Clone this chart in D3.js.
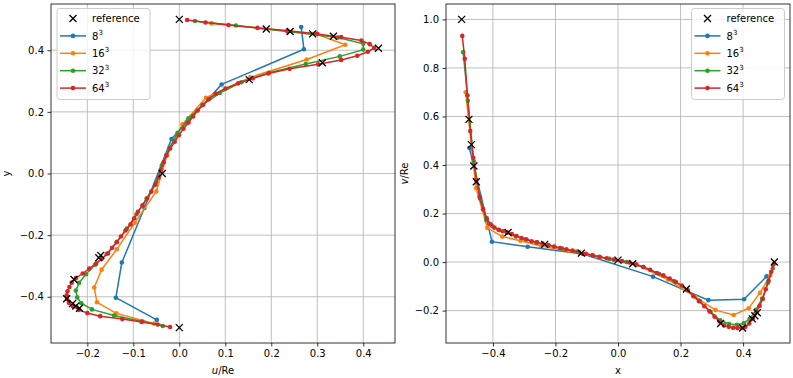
<!DOCTYPE html>
<meta charset="utf-8">
<script src="https://d3js.org/d3.v7.min.js"></script>
<style>
  body { margin: 0; background: #fff; }
  text { font-family: "DejaVu Sans", sans-serif; }
</style>
<div id="chart"></div>
<script>

// grid point positions for each resolution (same along y and x)
var grid8 = [-0.475, -0.403, -0.289, -0.112, 0.112, 0.289, 0.403, 0.475];
var grid16 = [-0.487, -0.454, -0.418, -0.370, -0.312, -0.246, -0.160, -0.058,
              0.058, 0.160, 0.246, 0.312, 0.370, 0.418, 0.454, 0.487];
var grid32 = [-0.495, -0.480, -0.461, -0.441, -0.421, -0.402, -0.380, -0.355,
              -0.327, -0.296, -0.261, -0.222, -0.179, -0.132, -0.081, -0.027,
              0.027, 0.081, 0.132, 0.179, 0.222, 0.261, 0.296, 0.327,
              0.355, 0.380, 0.402, 0.421, 0.441, 0.461, 0.480, 0.495];
var grid64 = [-0.498, -0.490, -0.4815, -0.4725, -0.4629, -0.4529, -0.4424, -0.4313,
              -0.4197, -0.4076, -0.3951, -0.3820, -0.3683, -0.3542, -0.3396, -0.3245,
              -0.3088, -0.2926, -0.2760, -0.2588, -0.2411, -0.2229, -0.2042, -0.1850,
              -0.1652, -0.1450, -0.1243, -0.1030, -0.0812, -0.0589, -0.0362, -0.0129,
              0.0129, 0.0362, 0.0589, 0.0812, 0.1030, 0.1243, 0.1450, 0.1652,
              0.1850, 0.2042, 0.2229, 0.2411, 0.2588, 0.2760, 0.2926, 0.3088,
              0.3245, 0.3396, 0.3542, 0.3683, 0.3820, 0.3951, 0.4076, 0.4197,
              0.4313, 0.4424, 0.4529, 0.4629, 0.4725, 0.4815, 0.490, 0.498];

// left panel: u/Re along y
var refY = [0.5, 0.4688, 0.4609, 0.4531, 0.4453, 0.4063, 0.3594, 0.3047, 0,
            -0.2656, -0.2734, -0.3437, -0.4062, -0.4219, -0.4297, -0.4375, -0.5];
var refU = [0, 0.189, 0.241, 0.290, 0.335, 0.433, 0.311, 0.152, -0.037,
            -0.171, -0.175, -0.229, -0.245, -0.232, -0.225, -0.217, 0];
var u8 = [-0.049, -0.138, -0.125, -0.076, -0.017, 0.092, 0.271, 0.265];
var u16 = [-0.055, -0.137, -0.179, -0.185, -0.169, -0.136, -0.097, -0.050,
           -0.027, 0.007, 0.058, 0.154, 0.277, 0.361, 0.295, 0.070];
var u32 = [-0.036, -0.080, -0.142, -0.190, -0.213, -0.222, -0.225, -0.218,
           -0.203, -0.183, -0.158, -0.136, -0.114, -0.093, -0.071, -0.050,
           -0.038, -0.022, -0.004, 0.020, 0.050, 0.088, 0.135, 0.195,
           0.275, 0.349, 0.400, 0.400, 0.345, 0.235, 0.123, 0.034];
var u64 = [-0.020, -0.047, -0.082, -0.124, -0.172, -0.200, -0.218, -0.231,
           -0.240, -0.244, -0.245, -0.243, -0.239, -0.234, -0.225, -0.210,
           -0.196, -0.181, -0.168, -0.155, -0.146, -0.136, -0.127, -0.117,
           -0.106, -0.098, -0.090, -0.080, -0.070, -0.061, -0.052, -0.045,
           -0.040, -0.034, -0.028, -0.020, -0.010, -0.001, 0.009, 0.020,
           0.030, 0.040, 0.052, 0.064, 0.080, 0.100, 0.128, 0.160,
           0.194, 0.240, 0.302, 0.352, 0.387, 0.410, 0.424, 0.414,
           0.396, 0.352, 0.300, 0.235, 0.170, 0.107, 0.057, 0.017];

// right panel: v/Re along x
var refX = [-0.5, -0.4766, -0.4688, -0.4609, -0.4531, -0.3516, -0.2344, -0.1172, 0,
            0.0469, 0.2187, 0.3281, 0.3984, 0.4297, 0.4375, 0.4453, 0.5];
var refV = [1.0, 0.588, 0.484, 0.396, 0.331, 0.122, 0.073, 0.037, 0.008,
            -0.007, -0.111, -0.253, -0.272, -0.234, -0.221, -0.209, 0];
var v8 = [0.470, 0.084, 0.063, 0.033, -0.060, -0.157, -0.153, -0.059];
var v16 = [0.700, 0.305, 0.141, 0.105, 0.088, 0.066, 0.046, 0.020,
           -0.010, -0.072, -0.142, -0.198, -0.218, -0.190, -0.127, -0.055];
var v32 = [0.865, 0.665, 0.415, 0.262, 0.172, 0.148, 0.132, 0.121,
           0.106, 0.094, 0.081, 0.069, 0.056, 0.043, 0.028, 0.013,
           0.000, -0.020, -0.049, -0.078, -0.115, -0.160, -0.205, -0.240,
           -0.255, -0.258, -0.252, -0.234, -0.197, -0.150, -0.085, -0.025];
var v64 = [0.932, 0.838, 0.687, 0.540, 0.430, 0.338, 0.268, 0.218,
           0.180, 0.156, 0.142, 0.133, 0.127, 0.122, 0.115, 0.107,
           0.099, 0.093, 0.086, 0.081, 0.076, 0.070, 0.064, 0.058,
           0.053, 0.047, 0.040, 0.034, 0.028, 0.022, 0.016, 0.010,
           0.004, -0.002, -0.010, -0.020, -0.032, -0.045, -0.055, -0.068,
           -0.082, -0.097, -0.116, -0.141, -0.161, -0.182, -0.203, -0.225,
           -0.245, -0.261, -0.267, -0.271, -0.272, -0.271, -0.267, -0.253,
           -0.233, -0.206, -0.180, -0.152, -0.112, -0.077, -0.040, -0.008];

// tick values
var leftXTicks = [-0.2, -0.1, 0.0, 0.1, 0.2, 0.3, 0.4];
var leftYTicks = [-0.4, -0.2, 0.0, 0.2, 0.4];
var rightXTicks = [-0.4, -0.2, 0.0, 0.2, 0.4];
var rightYTicks = [-0.2, 0.0, 0.2, 0.4, 0.6, 0.8, 1.0];

var legendLabels = ["8", "16", "32", "64"];
var colors = ["#1f77b4", "#ff7f0e", "#2ca02c", "#d62728"];

var svg = d3.select("#chart").append("svg")
    .attr("width", 793)
    .attr("height", 378);

function panel(id, box, xDom, yDom, xTicks, yTicks, series, ref, legendX) {
  var x = d3.scaleLinear().domain(xDom).range([box.left, box.right]);
  var y = d3.scaleLinear().domain(yDom).range([box.bottom, box.top]);
  var g = svg.append("g");

  g.append("clipPath").attr("id", id)
    .append("rect")
      .attr("x", box.left).attr("y", box.top)
      .attr("width", box.right - box.left).attr("height", box.bottom - box.top);

  // grid
  g.append("g").selectAll("line").data(xTicks).enter().append("line")
    .attr("x1", function (d) { return x(d); }).attr("x2", function (d) { return x(d); })
    .attr("y1", box.top).attr("y2", box.bottom)
    .attr("stroke", "#b0b0b0").attr("stroke-width", 0.8);
  g.append("g").selectAll("line").data(yTicks).enter().append("line")
    .attr("y1", function (d) { return y(d); }).attr("y2", function (d) { return y(d); })
    .attr("x1", box.left).attr("x2", box.right)
    .attr("stroke", "#b0b0b0").attr("stroke-width", 0.8);

  var fmt = d3.format(".1f");
  var xa = g.append("g")
    .attr("transform", "translate(0," + box.bottom + ")")
    .call(d3.axisBottom(x).tickValues(xTicks).tickFormat(fmt).tickSizeOuter(0).tickSize(3.5).tickPadding(3.5));
  var ya = g.append("g")
    .attr("transform", "translate(" + box.left + ",0)")
    .call(d3.axisLeft(y).tickValues(yTicks).tickFormat(fmt).tickSizeOuter(0).tickSize(3.5).tickPadding(3.5));
  [xa, ya].forEach(function (a) {
    a.select(".domain").remove();
    a.selectAll("text").attr("font-size", 10).attr("fill", "#000")
      .attr("font-family", "DejaVu Sans");
    a.selectAll("line").attr("stroke", "#000").attr("stroke-width", 0.8);
  });

  var plot = g.append("g").attr("clip-path", "url(#" + id + ")");
  var line = d3.line()
    .x(function (d) { return x(d[0]); })
    .y(function (d) { return y(d[1]); });

  series.forEach(function (s, i) {
    var pts = d3.zip(s.xs, s.ys);
    plot.append("path").datum(pts)
      .attr("d", line)
      .attr("fill", "none")
      .attr("stroke", colors[i])
      .attr("stroke-width", 1.5);
    plot.append("g").selectAll("circle").data(pts).enter().append("circle")
      .attr("cx", function (d) { return x(d[0]); })
      .attr("cy", function (d) { return y(d[1]); })
      .attr("r", 2.3)
      .attr("fill", colors[i]);
  });

  // reference markers
  var refPts = d3.zip(ref.xs, ref.ys);
  plot.append("g").selectAll("path").data(refPts).enter().append("path")
    .attr("d", function (d) {
      var cx = x(d[0]), cy = y(d[1]), r = 3.5;
      return "M" + (cx - r) + "," + (cy - r) + "L" + (cx + r) + "," + (cy + r) +
             "M" + (cx - r) + "," + (cy + r) + "L" + (cx + r) + "," + (cy - r);
    })
    .attr("stroke", "#000")
    .attr("stroke-width", 1.3);

  // frame
  g.append("rect")
    .attr("x", box.left).attr("y", box.top)
    .attr("width", box.right - box.left).attr("height", box.bottom - box.top)
    .attr("fill", "none").attr("stroke", "#000").attr("stroke-width", 0.8);

  // legend
  var lg = g.append("g").attr("transform", "translate(" + legendX + ",8.5)");
  lg.append("rect")
    .attr("width", 93).attr("height", 91).attr("rx", 3)
    .attr("fill", "#fff").attr("fill-opacity", 0.8)
    .attr("stroke", "#cccccc").attr("stroke-width", 1);
  var rowY = function (i) { return 10 + i * 17.4; };
  var hx = 16;
  lg.append("path")
    .attr("d", "M" + (hx - 3.5) + "," + (rowY(0) - 3.5) + "L" + (hx + 3.5) + "," + (rowY(0) + 3.5) +
               "M" + (hx - 3.5) + "," + (rowY(0) + 3.5) + "L" + (hx + 3.5) + "," + (rowY(0) - 3.5))
    .attr("stroke", "#000").attr("stroke-width", 1.3);
  lg.append("text").attr("x", 35).attr("y", rowY(0) + 3.6)
    .attr("font-size", 10).text("reference");
  legendLabels.forEach(function (lab, i) {
    var yy = rowY(i + 1);
    lg.append("line").attr("x1", 3).attr("x2", 29).attr("y1", yy).attr("y2", yy)
      .attr("stroke", colors[i]).attr("stroke-width", 1.5);
    lg.append("circle").attr("cx", hx).attr("cy", yy).attr("r", 2.3).attr("fill", colors[i]);
    var t = lg.append("text").attr("x", 35).attr("y", yy + 3.6).attr("font-size", 10);
    t.append("tspan").text(lab);
    t.append("tspan").attr("font-size", 7).attr("dy", -4.5).text("3");
  });

  return {x: x, y: y};
}

var leftBox = {left: 51, right: 395, top: 4, bottom: 343};
var rightBox = {left: 446, right: 790, top: 4, bottom: 343};

panel("clipL", leftBox, [-0.279, 0.469], [-0.55, 0.55], leftXTicks, leftYTicks,
  [{xs: u8, ys: grid8}, {xs: u16, ys: grid16}, {xs: u32, ys: grid32}, {xs: u64, ys: grid64}],
  {xs: refU, ys: refY}, 57);

panel("clipR", rightBox, [-0.55, 0.55], [-0.3335, 1.0635], rightXTicks, rightYTicks,
  [{xs: grid8, ys: v8}, {xs: grid16, ys: v16}, {xs: grid32, ys: v32}, {xs: grid64, ys: v64}],
  {xs: refX, ys: refV}, 691.5);

// axis labels
var lx = svg.append("text").attr("x", 223).attr("y", 374)
  .attr("text-anchor", "middle").attr("font-size", 10);
lx.append("tspan").attr("font-style", "italic").text("u");
lx.append("tspan").text("/Re");

svg.append("text").attr("transform", "translate(10,173.5) rotate(-90)")
  .attr("text-anchor", "middle").attr("font-size", 10).text("y");

svg.append("text").attr("x", 618).attr("y", 374)
  .attr("text-anchor", "middle").attr("font-size", 10).text("x");

var ry = svg.append("text").attr("transform", "translate(408,173.5) rotate(-90)")
  .attr("text-anchor", "middle").attr("font-size", 10);
ry.append("tspan").attr("font-style", "italic").text("v");
ry.append("tspan").text("/Re");

</script>
